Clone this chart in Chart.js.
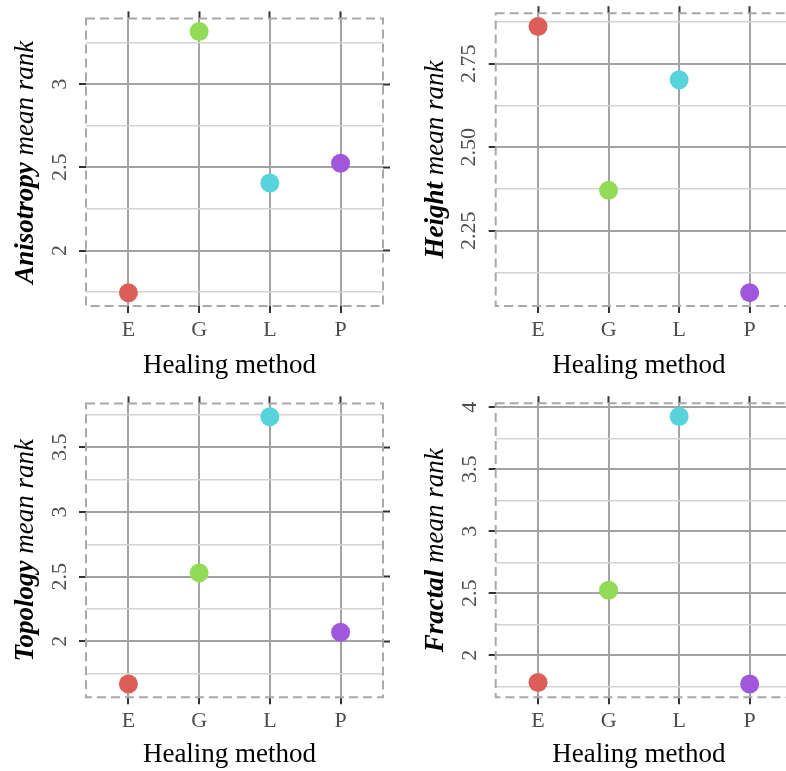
<!DOCTYPE html>
<html>
<head>
<meta charset="utf-8">
<script src="https://cdn.jsdelivr.net/npm/chart.js@4/dist/chart.umd.min.js"></script>
<style>
  html, body { margin: 0; padding: 0; background: #fff; overflow: hidden; }
  body { width: 786px; height: 771px; position: relative; }
  canvas { position: absolute; }
</style>
</head>
<body>
<canvas id="anisotropyChart" width="393" height="385" style="left:0;top:0"></canvas>
<canvas id="heightChart" width="410" height="385" style="left:393px;top:0"></canvas>
<canvas id="topologyChart" width="393" height="386" style="left:0;top:385px"></canvas>
<canvas id="fractalChart" width="410" height="386" style="left:393px;top:385px"></canvas>
<script>
const methods = ['E', 'G', 'L', 'P'];
const pointColors = ['#DB5F57', '#91DB57', '#57D3DB', '#A157DB'];

const anisotropyRank = [1.746, 3.316, 2.406, 2.525];
const heightRank = [2.861, 2.371, 2.702, 2.065];
const topologyRank = [1.671, 2.529, 3.735, 2.070];
const fractalRank = [1.780, 2.524, 3.925, 1.769];

const anisotropyRange = [1.667, 3.395];
const heightRange = [2.025, 2.901];
const topologyRange = [1.568, 3.838];
const fractalRange = [1.661, 4.033];

const anisotropyTicks = [2, 2.5, 3];
const anisotropyLabels = ['2', '2.5', '3'];
const anisotropyMinor = [1.75, 2.25, 2.75, 3.25];
const heightTicks = [2.25, 2.5, 2.75];
const heightLabels = ['2.25', '2.50', '2.75'];
const heightMinor = [2.125, 2.375, 2.625, 2.875];
const topologyTicks = [2, 2.5, 3, 3.5];
const topologyLabels = ['2', '2.5', '3', '3.5'];
const topologyMinor = [1.75, 2.25, 2.75, 3.25, 3.75];
const fractalTicks = [2, 2.5, 3, 3.5, 4];
const fractalLabels = ['2', '2.5', '3', '3.5', '4'];
const fractalMinor = [1.75, 2.25, 2.75, 3.25, 3.75];

const xTitle = 'Healing method';
const serif = "'Liberation Serif', 'Times New Roman', serif";
const majorColor = '#a3a3a3';
const minorColor = '#d3d3d3';
const tickMarkColor = '#333333';

// dashed panel border + axis titles (y title mixes bold italic and italic)
const panelDecor = {
  id: 'panelDecor',
  beforeDatasetsDraw(chart) {
    const c = chart.ctx;
    const a = chart.chartArea;
    c.save();
    c.strokeStyle = '#a8a8a8';
    c.lineWidth = 2;
    c.setLineDash([9, 5]);
    c.strokeRect(a.left, a.top, a.right - a.left, a.bottom - a.top);
    c.restore();
  },
  afterDraw(chart, args, opts) {
    const c = chart.ctx;
    const a = chart.chartArea;
    const cy = (a.top + a.bottom) / 2;
    const boldFont = 'italic bold 27px ' + serif;
    const italFont = 'italic 27px ' + serif;
    c.save();
    c.fillStyle = '#000';
    c.font = '27px ' + serif;
    c.textAlign = 'center';
    c.textBaseline = 'middle';
    c.fillText(xTitle, (a.left + a.right) / 2 - 5, opts.xTitleY);

    c.font = boldFont;
    const w1 = c.measureText(opts.word).width;
    c.font = italFont;
    const w2 = c.measureText(' mean rank').width;
    c.translate(opts.yTitleX, cy);
    c.rotate(-Math.PI / 2);
    c.textBaseline = 'alphabetic';
    c.textAlign = 'left';
    const start = -(w1 + w2) / 2;
    c.font = boldFont;
    c.fillText(opts.word, start, 0);
    c.font = italFont;
    c.fillText(' mean rank', start + w1, 0);
    c.restore();
  }
};

function makePanel(id, word, values, range, majors, majorLabels, minors, lay) {
  const allTicks = majors.concat(minors).sort((a, b) => a - b);
  const isMajor = v => majors.indexOf(v) >= 0;
  const setYTicks = s => { s.ticks = allTicks.map(v => ({ value: v })); };
  const setXTicks = s => { s.ticks = methods.map((m, i) => ({ value: i })); };
  const noBorder = { display: false };

  return new Chart(document.getElementById(id), {
    type: 'scatter',
    data: {
      datasets: [{
        data: values.map((v, i) => ({ x: i, y: v })),
        pointBackgroundColor: pointColors,
        pointBorderWidth: 0,
        pointRadius: 9.5,
        pointHoverRadius: 9.5,
        showLine: false
      }]
    },
    options: {
      responsive: false,
      animation: false,
      layout: { padding: { left: 0, right: lay.padRight, top: lay.padTop, bottom: 0 } },
      plugins: {
        legend: { display: false },
        tooltip: { enabled: false },
        panelDecor: { word: word, yTitleX: lay.yTitleX, xTitleY: lay.xTitleY }
      },
      scales: {
        x: {
          type: 'linear',
          position: 'bottom',
          min: -0.6,
          max: 3.6,
          afterBuildTicks: setXTicks,
          afterFit: s => { s.height = lay.xHeight; },
          ticks: {
            autoSkip: false,
            maxRotation: 0,
            padding: 4,
            color: '#4d4d4d',
            font: { family: serif, size: 22 },
            callback: v => methods[v]
          },
          grid: { color: majorColor, lineWidth: 2, tickLength: 7, tickColor: tickMarkColor, tickWidth: 2 },
          border: noBorder
        },
        x2: {
          type: 'linear',
          position: 'top',
          min: -0.6,
          max: 3.6,
          afterBuildTicks: setXTicks,
          afterFit: s => { s.height = 7; },
          ticks: { display: false },
          grid: { drawOnChartArea: false, tickLength: 7, tickColor: tickMarkColor, tickWidth: 2 },
          border: noBorder
        },
        y: {
          type: 'linear',
          position: 'left',
          min: range[0],
          max: range[1],
          afterBuildTicks: setYTicks,
          afterFit: s => { s.width = lay.yWidth; },
          ticks: {
            autoSkip: false,
            minRotation: 90,
            maxRotation: 90,
            crossAlign: 'center',
            padding: lay.yTickPad,
            color: '#4d4d4d',
            font: { family: serif, size: 22 },
            callback: v => isMajor(v) ? majorLabels[majors.indexOf(v)] : ''
          },
          grid: {
            color: ctx => isMajor(ctx.tick.value) ? majorColor : minorColor,
            lineWidth: ctx => isMajor(ctx.tick.value) ? 2 : 1.4,
            tickLength: 7,
            tickColor: ctx => isMajor(ctx.tick.value) ? tickMarkColor : 'rgba(0,0,0,0)',
            tickWidth: 2
          },
          border: noBorder
        },
        y2: {
          type: 'linear',
          position: 'right',
          min: range[0],
          max: range[1],
          afterBuildTicks: setYTicks,
          afterFit: s => { s.width = 7; },
          ticks: { display: false },
          grid: {
            drawOnChartArea: false,
            tickLength: 7,
            tickColor: ctx => isMajor(ctx.tick.value) ? tickMarkColor : 'rgba(0,0,0,0)',
            tickWidth: 2
          },
          border: noBorder
        }
      }
    },
    plugins: [panelDecor]
  });
}

makePanel('anisotropyChart', 'Anisotropy', anisotropyRank, anisotropyRange, anisotropyTicks, anisotropyLabels, anisotropyMinor,
  { padTop: 4, padRight: 3, xHeight: 79, yWidth: 86, yTickPad: 5.2, yTitleX: 33, xTitleY: 366 });
makePanel('heightChart', 'Height', heightRank, heightRange, heightTicks, heightLabels, heightMinor,
  { padTop: 4, padRight: 4, xHeight: 79, yWidth: 102.7, yTickPad: 0, yTitleX: 50, xTitleY: 366 });
makePanel('topologyChart', 'Topology', topologyRank, topologyRange, topologyTicks, topologyLabels, topologyMinor,
  { padTop: 10.3, padRight: 3, xHeight: 73.7, yWidth: 86, yTickPad: 5.2, yTitleX: 33, xTitleY: 370 });
makePanel('fractalChart', 'Fractal', fractalRank, fractalRange, fractalTicks, fractalLabels, fractalMinor,
  { padTop: 10.3, padRight: 4, xHeight: 73.7, yWidth: 102.7, yTickPad: 5, yTitleX: 50, xTitleY: 370 });
</script>
</body>
</html>
